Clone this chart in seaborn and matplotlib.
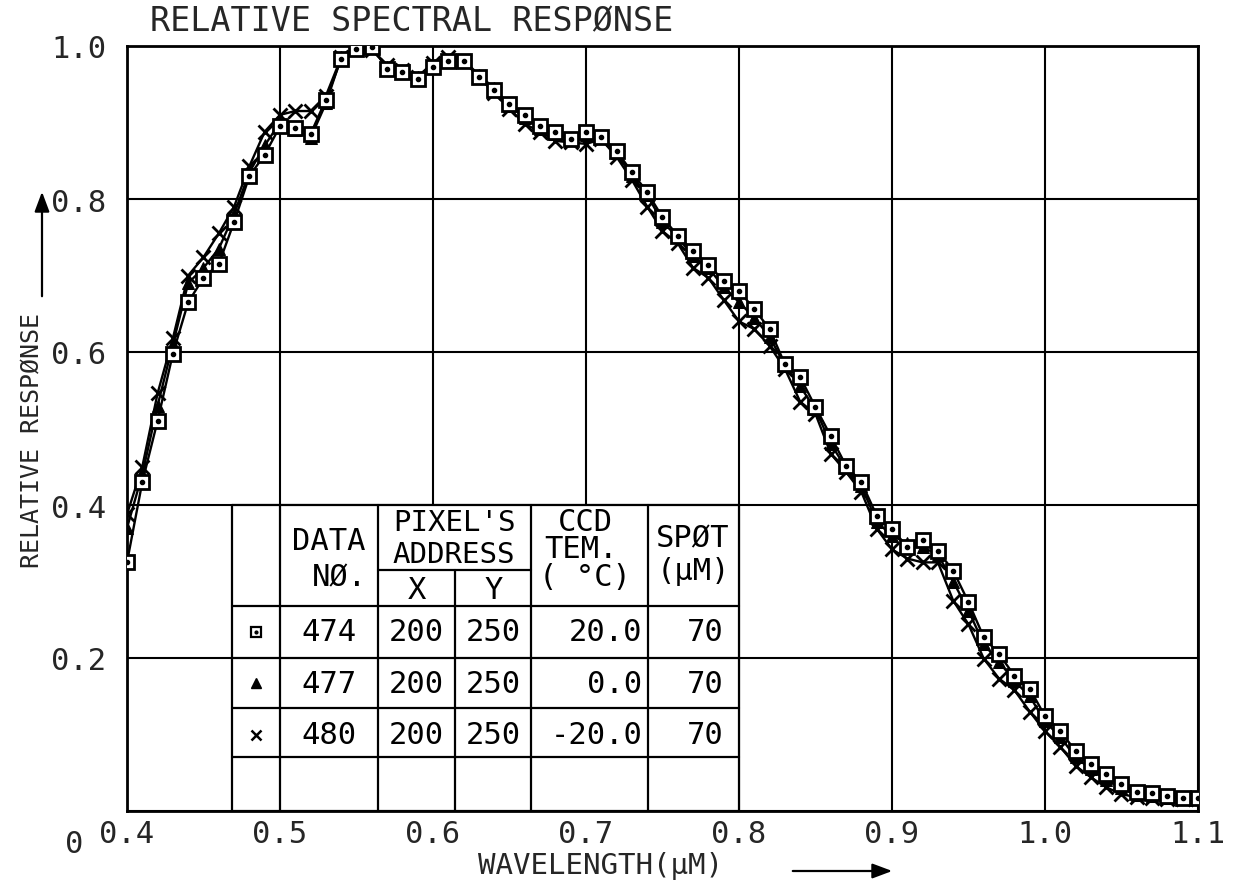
import matplotlib
matplotlib.use("Agg")
import matplotlib.pyplot as plt
import seaborn as sns
import numpy as np
from matplotlib.transforms import ScaledTranslation
from matplotlib.patches import Rectangle, FancyArrowPatch

# ---------------- data ----------------
wavelength = [0.40, 0.41, 0.42, 0.43, 0.44, 0.45, 0.46, 0.47, 0.48, 0.49,
              0.50, 0.51, 0.52, 0.53, 0.54, 0.55, 0.56, 0.57, 0.58, 0.59,
              0.60, 0.61, 0.62, 0.63, 0.64, 0.65, 0.66, 0.67, 0.68, 0.69,
              0.70, 0.71, 0.72, 0.73, 0.74, 0.75, 0.76, 0.77, 0.78, 0.79,
              0.80, 0.81, 0.82, 0.83, 0.84, 0.85, 0.86, 0.87, 0.88, 0.89,
              0.90, 0.91, 0.92, 0.93, 0.94, 0.95, 0.96, 0.97, 0.98, 0.99,
              1.00, 1.01, 1.02, 1.03, 1.04, 1.05, 1.06, 1.07, 1.08, 1.09,
              1.10]

resp_474 = [0.325, 0.430, 0.510, 0.598, 0.665, 0.697, 0.715, 0.770, 0.830, 0.858,
            0.895, 0.893, 0.885, 0.930, 0.983, 0.996, 0.999, 0.970, 0.966, 0.957,
            0.972, 0.980, 0.980, 0.960, 0.942, 0.924, 0.910, 0.895, 0.888, 0.878,
            0.887, 0.881, 0.863, 0.835, 0.809, 0.776, 0.752, 0.732, 0.714, 0.693,
            0.680, 0.656, 0.630, 0.584, 0.567, 0.528, 0.490, 0.451, 0.430, 0.386,
            0.369, 0.345, 0.354, 0.340, 0.314, 0.273, 0.227, 0.205, 0.177, 0.160,
            0.124, 0.105, 0.078, 0.061, 0.048, 0.035, 0.025, 0.024, 0.020, 0.017,
            0.017]

resp_477 = [0.370, 0.440, 0.530, 0.610, 0.690, 0.710, 0.735, 0.780, 0.835, 0.870,
            0.900, 0.890, 0.880, 0.925, 0.985, 0.998, 0.998, 0.972, 0.967, 0.960,
            0.975, 0.982, 0.982, 0.962, 0.945, 0.922, 0.906, 0.892, 0.885, 0.878,
            0.884, 0.880, 0.860, 0.830, 0.805, 0.770, 0.750, 0.725, 0.710, 0.685,
            0.665, 0.645, 0.620, 0.582, 0.555, 0.525, 0.480, 0.448, 0.425, 0.378,
            0.360, 0.350, 0.345, 0.335, 0.300, 0.262, 0.218, 0.195, 0.170, 0.150,
            0.117, 0.097, 0.070, 0.055, 0.040, 0.030, 0.021, 0.019, 0.017, 0.016,
            0.016]

resp_480 = [0.388, 0.450, 0.546, 0.618, 0.700, 0.724, 0.755, 0.790, 0.843, 0.888,
            0.910, 0.915, 0.915, 0.935, 0.985, 1.000, 0.995, 0.975, 0.968, 0.960,
            0.978, 0.985, 0.980, 0.960, 0.938, 0.918, 0.898, 0.888, 0.876, 0.874,
            0.872, 0.878, 0.855, 0.825, 0.790, 0.758, 0.742, 0.710, 0.697, 0.668,
            0.640, 0.630, 0.608, 0.578, 0.535, 0.519, 0.467, 0.443, 0.417, 0.369,
            0.342, 0.330, 0.325, 0.325, 0.275, 0.244, 0.199, 0.173, 0.158, 0.130,
            0.104, 0.084, 0.059, 0.044, 0.031, 0.022, 0.018, 0.017, 0.016, 0.016,
            0.016]

x_ticks = [0.4, 0.5, 0.6, 0.7, 0.8, 0.9, 1.0, 1.1]
x_tick_labels = ["0.4", "0.5", "0.6", "0.7", "0.8", "0.9", "1.0", "1.1"]
y_ticks = [0.0, 0.2, 0.4, 0.6, 0.8, 1.0]
y_tick_labels = ["0", "0.2", "0.4", "0.6", "0.8", "1.0"]

# table contents
data_no = ["474", "477", "480"]
pixel_x = ["200", "200", "200"]
pixel_y = ["250", "250", "250"]
ccd_temp = ["20.0", "0.0", "-20.0"]
spot_size = ["70", "70", "70"]

# ---------------- style ----------------
sns.set_style("white")
plt.rcParams['font.family'] = ['DejaVu Sans Mono', 'DejaVu Sans']
FS = 22

W, H = 1236, 887
fig = plt.figure(figsize=(W / 100, H / 100), dpi=100)
ax = fig.add_axes([127 / W, 1 - 812 / H, (1198 - 127) / W, (812 - 47) / H])

# curves
sns.lineplot(x=wavelength, y=resp_480, ax=ax, color='black', lw=1.7,
             marker='x', markersize=10, markeredgewidth=2.0,
             markeredgecolor='black', markerfacecolor='black',
             estimator=None, sort=False, zorder=5)
sns.lineplot(x=wavelength, y=resp_477, ax=ax, color='black', lw=1.7,
             marker='^', markersize=9, markerfacecolor='black', markeredgecolor='black',
             estimator=None, sort=False, zorder=6)
sns.lineplot(x=wavelength, y=resp_474, ax=ax, color='black', lw=1.7,
             marker='s', markersize=10, markerfacecolor='white', markeredgecolor='black',
             markeredgewidth=2.0, estimator=None, sort=False, zorder=7)
ax.plot(wavelength, resp_474, ls='none', marker='o', markersize=3, color='black', zorder=8)

ax.set_xlim(0.4, 1.1)
ax.set_ylim(0.0, 1.0)
ax.set_xticks(x_ticks)
ax.set_xticklabels(x_tick_labels, fontsize=FS)
ax.set_yticks(y_ticks)
ax.set_yticklabels(y_tick_labels, fontsize=FS)
ax.tick_params(axis='both', length=0)
ax.tick_params(axis='x', pad=6)
ax.tick_params(axis='y', pad=15)
ax.grid(True, color='black', lw=1.5)
ax.set_axisbelow(True)
for s in ax.spines.values():
    s.set_color('black')
    s.set_linewidth(2)

# shift the "0" label down-left as in the reference
lbl0 = ax.get_yticklabels()[0]
lbl0.set_transform(lbl0.get_transform() + ScaledTranslation(-0.23, -0.30, fig.dpi_scale_trans))

# ---------------- table ----------------
cols = [0.4687, 0.50, 0.564, 0.6145, 0.6642, 0.7407, 0.80]
rows = [0.40, 0.268, 0.20, 0.135, 0.07, 0.0]
ax.add_patch(Rectangle((cols[0], 0.0), cols[-1] - cols[0], 0.40,
                       facecolor='white', edgecolor='none', zorder=3))
lk = dict(color='black', lw=1.6, zorder=4)
for r in rows:
    ax.plot([cols[0], cols[-1]], [r, r], **lk)
ax.plot([cols[2], cols[4]], [0.315, 0.315], **lk)
for i, c in enumerate(cols):
    top = 0.315 if i == 3 else 0.40
    ax.plot([c, c], [0.0, top], **lk)

tk = dict(fontsize=FS, color='black', zorder=9, va='center')
ax.text(0.532, 0.354, "DATA", ha='center', **tk)
ax.text(0.539, 0.306, "NØ.", ha='center', **tk)
ax.text(0.6138, 0.378, "PIXEL'S", ha='center', fontsize=21, color='black', zorder=9, va='center')
ax.text(0.6138, 0.336, "ADDRESS", ha='center', fontsize=21, color='black', zorder=9, va='center')
ax.text(0.5893, 0.290, "X", ha='center', **tk)
ax.text(0.6394, 0.290, "Y", ha='center', **tk)
ax.text(0.6995, 0.378, "CCD", ha='center', **tk)
ax.text(0.6970, 0.343, "TEM.", ha='center', **tk)
ax.text(0.6995, 0.306, "( °C)", ha='center', **tk)
ax.text(0.7700, 0.357, "SPØT", ha='center', **tk)
ax.text(0.7700, 0.315, "(µM)", ha='center', **tk)

row_y = [0.234, 0.167, 0.100]
sym_markers = [dict(marker='s', markersize=7, markerfacecolor='white', markeredgecolor='black', markeredgewidth=1.6),
               dict(marker='^', markersize=7, color='black'),
               dict(marker='x', markersize=7, color='black', markeredgewidth=1.8)]
for i, yv in enumerate(row_y):
    ax.plot([0.4844], [yv], ls='none', zorder=9, **sym_markers[i])
    ax.text(0.532, yv, data_no[i], ha='center', **tk)
    ax.text(0.5893, yv, pixel_x[i], ha='center', **tk)
    ax.text(0.6394, yv, pixel_y[i], ha='center', **tk)
    ax.text(0.7370, yv, ccd_temp[i], ha='right', **tk)
    ax.text(0.7900, yv, spot_size[i], ha='right', **tk)
ax.plot([0.4844], [row_y[0]], ls='none', marker='o', markersize=2, color='black', zorder=10)

# ---------------- titles & axis labels ----------------
fig.text(150 / W, 1 - 22 / H, "RELATIVE SPECTRAL RESPØNSE", fontsize=24,
         ha='left', va='center')
fig.text(600 / W, 1 - 866 / H, "WAVELENGTH(µM)", fontsize=21, ha='center', va='center')
fig.text(32 / W, 1 - 440 / H, "RELATIVE RESPØNSE", fontsize=18, rotation=90,
         ha='center', va='center')

arrow = dict(arrowstyle='-|>,head_length=0.8,head_width=0.3', color='black', lw=1.6)
fig.add_artist(FancyArrowPatch((790 / W, 1 - 872 / H), (895 / W, 1 - 872 / H),
                               transform=fig.transFigure, mutation_scale=15, **arrow))
fig.add_artist(FancyArrowPatch((42 / W, 1 - 300 / H), (42 / W, 1 - 190 / H),
                               transform=fig.transFigure, mutation_scale=15, **arrow))

fig.savefig("out.png", dpi=100, facecolor='white')
